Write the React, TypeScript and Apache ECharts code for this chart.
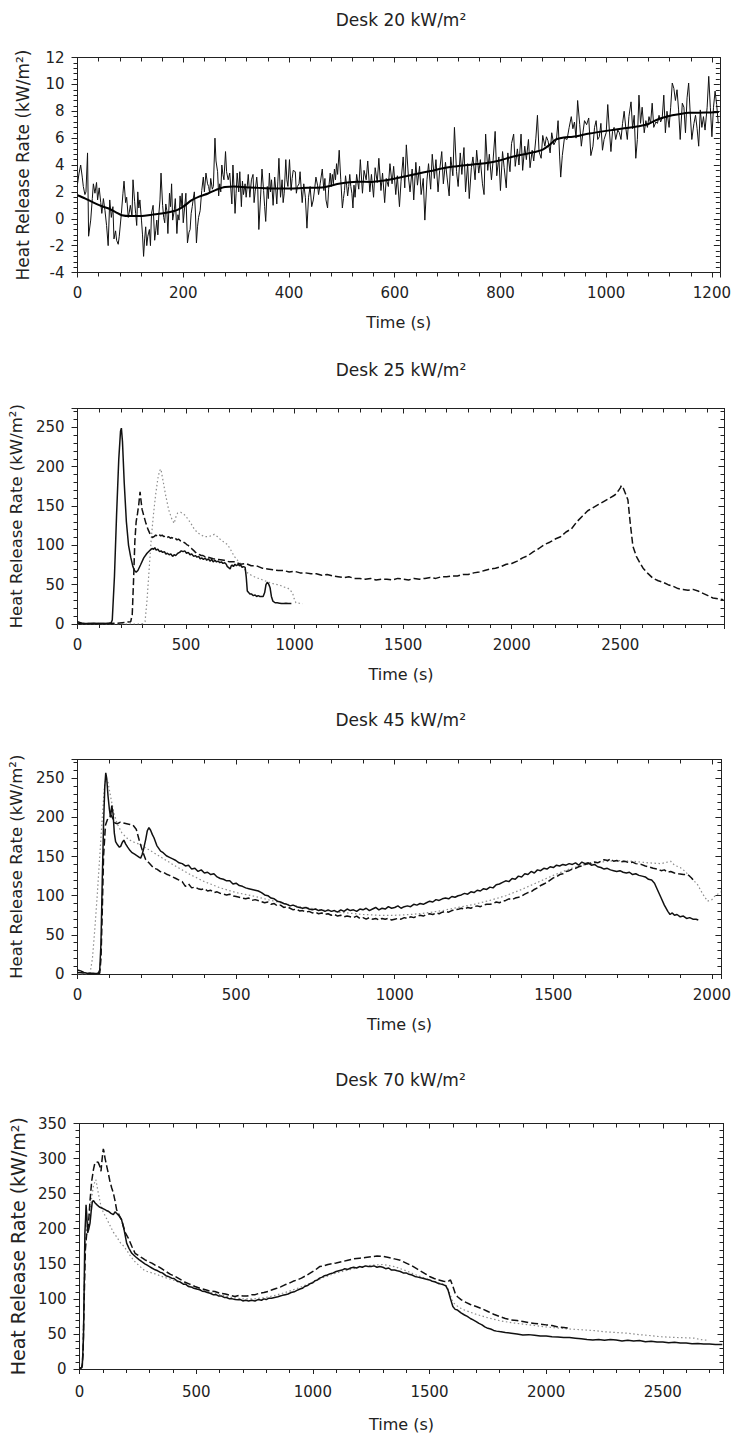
import React, { useEffect, useRef } from "react";
import * as echarts from "echarts";

// ---------- Desk 20 kW/m2 ----------
const desk20Noisy: number[][] = [
  [0,2.6],[3,3.4],[6,4.0],[9,3.1],[11,2.4],[14,1.8],[16,2.0],[19,4.9],[21,-1.3],[25,-0.1],[28,1.5],[30,2.6],[33,1.9],[36,2.7],[38,1.4],[41,2.3],[44,1.2],[46,0.4],[49,1.5],[52,0.6],[55,-0.5],[58,-2.0],[61,1.4],[64,0.1],[67,0.9],[69,-1.5],[72,-0.9],[74,-1.6],[77,-1.9],[79,-1.3],[83,0.4],[86,1.9],[88,2.8],[91,1.2],[93,1.6],[96,0.1],[98,0.5],[100,1.0],[103,0.2],[105,2.9],[108,1.3],[110,0.4],[112,-0.5],[114,2.0],[116,0.8],[118,1.4],[121,-0.1],[123,-1.2],[125,-2.8],[127,-1.5],[129,-0.6],[131,-2.0],[133,-1.3],[136,-0.8],[138,-2.0],[140,0.4],[143,1.0],[146,-1.6],[148,-0.9],[150,-0.1],[152,-1.2],[154,0.4],[156,1.4],[158,3.4],[161,1.0],[163,0.1],[165,-0.3],[167,1.1],[169,0.6],[171,-1.1],[174,1.9],[176,0.9],[178,2.6],[180,-0.1],[183,0.6],[185,1.5],[188,-1.1],[190,0.3],[192,-0.1],[194,1.7],[196,0.9],[198,1.9],[200,-0.3],[203,1.0],[205,1.9],[208,-1.8],[211,-1.0],[213,-0.8],[215,0.4],[217,0.9],[219,1.5],[221,2.0],[223,0.5],[225,-1.8],[227,-0.6],[229,0.1],[232,0.6],[235,2.1],[238,3.1],[240,2.0],[243,3.4],[246,2.6],[248,2.4],[250,1.9],[252,3.0],[255,2.2],[257,2.4],[260,6.0],[262,4.3],[265,3.5],[267,1.7],[269,2.6],[271,2.0],[273,4.0],[275,3.3],[277,2.9],[280,5.0],[282,3.5],[285,2.9],[288,3.4],[292,1.1],[294,4.0],[296,2.4],[298,0.4],[300,1.9],[302,3.4],[305,2.0],[307,3.5],[310,0.9],[312,2.8],[314,1.8],[317,2.6],[319,1.6],[321,2.4],[323,3.3],[326,1.6],[329,2.9],[332,3.3],[334,1.2],[336,2.0],[339,3.1],[341,2.2],[343,-0.8],[346,1.4],[349,3.7],[352,2.1],[354,0.9],[356,-0.2],[359,2.4],[361,1.5],[363,3.4],[365,2.0],[367,2.9],[370,1.0],[373,3.1],[375,2.2],[377,1.1],[379,2.8],[381,4.5],[384,1.6],[387,2.9],[389,1.2],[391,1.9],[394,4.4],[396,2.9],[398,2.4],[401,4.4],[404,2.1],[406,3.0],[408,3.6],[412,3.5],[414,1.9],[416,2.4],[419,2.6],[421,3.5],[423,2.3],[425,1.2],[428,2.6],[431,1.6],[434,-0.7],[437,1.6],[440,2.4],[443,0.9],[446,1.4],[449,2.4],[451,3.1],[454,2.5],[456,1.8],[459,2.6],[463,3.7],[466,2.1],[468,3.0],[470,1.4],[473,0.8],[475,2.2],[478,3.4],[480,2.4],[482,3.3],[484,2.6],[486,3.7],[488,2.9],[490,4.1],[492,3.3],[495,5.1],[498,2.9],[501,0.8],[503,1.5],[505,2.1],[507,3.2],[509,2.5],[511,1.7],[513,2.4],[515,3.3],[517,2.4],[519,1.9],[521,0.8],[523,2.5],[525,1.6],[528,3.3],
  [532,2.2],[535,4.4],[539,1.9],[542,3.6],[546,2.9],[549,4.3],[553,2.0],[556,3.3],[560,1.6],[563,3.8],[567,2.7],[570,4.5],[574,2.1],[577,3.4],[581,1.2],[584,3.0],[588,2.4],[591,4.1],[595,2.6],[598,3.9],[602,1.8],[605,3.2],[609,0.9],[612,2.8],[616,4.6],[619,2.3],[622,5.5],[626,3.1],[629,2.0],[633,3.7],[636,1.4],[640,4.2],[643,2.5],[647,3.9],[650,1.8],[654,3.0],[657,-0.1],[661,2.9],[664,4.1],[668,2.2],[671,4.8],[675,3.0],[678,4.4],[682,2.0],[685,3.6],[689,5.0],[692,2.6],[696,4.2],[699,3.1],[703,1.7],[706,4.6],[710,3.2],[713,6.8],[717,3.5],[720,2.4],[724,4.9],[727,3.3],[731,5.3],[734,2.0],[738,4.1],[741,1.5],[745,3.8],[748,4.6],[752,2.9],[755,5.1],[759,3.4],[762,4.4],[766,2.6],[769,1.8],[772,6.3],[776,3.6],[779,4.8],[783,2.9],[786,4.3],[790,6.5],[793,3.2],[797,4.6],[800,2.1],[804,5.0],[807,3.8],[811,2.3],[814,4.9],[818,3.5],[821,5.6],[825,6.3],[828,3.9],[832,5.2],[835,4.0],[839,6.3],[842,3.6],[846,5.4],[849,4.4],[853,5.9],[856,3.8],[860,5.1],[863,4.3],[867,6.0],[870,7.7],[873,5.0],[877,4.5],[880,6.2],[884,5.4],[887,6.1],[890,5.8],[894,4.9],[897,6.4],[901,5.5],
  [906,5.9],[909,7.3],[912,4.6],[914,3.1],[917,4.7],[921,6.0],[926,5.9],[930,6.8],[934,7.6],[937,6.7],[940,7.2],[943,6.0],[946,8.8],[950,7.0],[953,5.4],[956,6.4],[959,7.3],[963,7.0],[967,7.5],[971,4.7],[975,5.4],[978,6.8],[981,7.3],[984,5.9],[987,6.1],[990,7.1],[993,5.1],[996,5.9],[1000,6.4],[1003,8.5],[1006,6.6],[1009,5.0],[1012,6.5],[1015,6.8],[1018,5.9],[1022,6.6],[1025,6.4],[1028,5.9],[1031,7.1],[1034,8.0],[1037,6.8],[1040,5.9],[1043,7.6],[1047,8.7],[1050,6.7],[1053,7.7],[1056,4.5],[1059,5.9],[1062,9.2],[1065,7.1],[1068,8.3],[1072,6.4],[1075,7.3],[1078,6.8],[1081,7.6],[1084,7.1],[1087,8.6],[1090,6.8],[1094,7.2],[1097,7.1],[1100,7.7],[1103,7.2],[1106,7.5],[1109,9.2],[1112,6.4],[1115,8.0],[1119,6.8],[1122,8.3],[1125,10.1],[1128,9.7],[1131,8.8],[1134,9.6],[1137,8.1],[1140,5.9],[1144,8.6],[1147,8.3],[1150,6.4],[1153,9.0],[1156,10.1],[1159,7.8],[1162,5.9],[1166,7.1],[1169,7.7],[1172,6.7],[1175,5.4],[1178,8.1],[1181,6.8],[1184,7.6],[1187,6.6],[1191,8.3],[1194,10.6],[1197,8.3],[1200,6.1],[1203,8.3],[1206,9.5],[1209,8.5],[1212,7.1]
];
const desk20Smooth: number[][] = [
  [0,1.75],[15,1.5],[28,1.25],[45,0.95],[59,0.76],[72,0.5],[84,0.26],[100,0.2],[122,0.2],[140,0.3],[159,0.39],[175,0.5],[188,0.64],[200,0.9],[216,1.38],[230,1.65],[247,1.88],[262,2.15],[279,2.37],[295,2.4],[310,2.37],[341,2.3],[372,2.25],[404,2.25],[435,2.3],[466,2.35],[497,2.62],[529,2.75],[557,2.74],[580,2.85],[601,3.0],[623,3.18],[645,3.37],[668,3.55],[689,3.74],[711,3.88],[733,3.98],[755,4.07],[777,4.16],[800,4.35],[821,4.6],[843,4.78],[865,4.97],[880,5.15],[893,5.5],[905,5.9],[920,6.05],[937,6.1],[968,6.34],[1000,6.54],[1031,6.71],[1062,6.89],[1080,7.05],[1094,7.33],[1110,7.55],[1125,7.7],[1140,7.8],[1156,7.88],[1188,7.9],[1213,7.95]
];

// ---------- Desk 25 kW/m2 ----------
const desk25Solid: number[][] = [
  [0,3],[10,2],[20,1],[40,0.5],[60,0.6],[80,0.8],[100,0.6],[120,0.5],[140,0.8],[155,1.5],[160,5],[170,60],[180,140],[190,210],[198,245],[202,249],[207,232],[215,180],[225,130],[235,100],[245,85],[255,73],[262,68],[270,66],[278,68],[290,75],[305,84],[320,90],[335,94],[343,96],[350,95],[356,97],[362,94],[370,95],[378,92],[385,93],[392,91],[400,92],[407,89],[414,90],[422,88],[430,89],[438,86],[445,88],[452,87],[462,90],[470,91],[478,93],[486,92],[494,93],[502,90],[510,91],[518,88],[526,89],[535,86],[543,87],[550,85],[558,86],[565,83],[573,84],[580,82],[588,84],[595,81],[603,83],[610,80],[618,82],[625,79],[633,81],[640,79],[648,80],[655,78],[663,79],[670,77],[678,78],[685,76],[690,73],[695,72],[703,70],[708,74],[712,75],[718,73],[725,76],[732,74],[740,76],[746,74],[752,75],[758,72],[765,73],[772,72],[777,60],[782,42],[788,40],[795,38],[802,38],[810,36],[818,37],[825,35],[832,36],[840,35],[848,35],[855,35],[862,40],[868,50],[874,53],[880,51],[887,46],[893,35],[900,29],[910,27],[920,27],[930,26.5],[940,26],[950,26],[960,26.5],[970,26],[985,26]
];
const desk25Dashed: number[][] = [
  [0,1],[60,0.5],[120,0.5],[180,1],[220,2],[245,3],[252,12],[258,55],[264,105],[270,130],[276,140],[282,152],[288,168],[292,158],[297,146],[305,138],[315,128],[325,120],[335,114],[345,110],[352,111],[360,113],[368,112],[375,114],[383,112],[390,113],[398,111],[405,112],[413,110],[420,111],[428,109],[435,110],[443,108],[450,109],[458,107],[465,108],[473,106],[480,106],[488,104],[495,103],[503,101],[510,100],[518,97],[525,96],[533,94],[540,92],[548,90],[555,89],[563,88],[570,87],[578,87],[585,86],[593,85],[600,85],[625,83],[650,82],[675,81],[700,79],[725,79],[750,76],[775,77],[800,74],[825,74],[850,71],[875,70],[900,69],[925,68],[950,68],[975,66],[1000,67],[1025,65],[1050,65],[1075,64],[1100,64],[1125,62],[1150,63],[1175,61],[1200,60],[1225,59],[1250,60],[1275,58],[1300,58],[1325,57],[1350,58],[1375,56],[1400,57],[1425,57],[1450,56],[1475,58],[1500,57],[1525,56],[1550,58],[1575,57],[1600,58],[1625,59],[1650,58],[1675,60],[1700,60],[1725,61],[1750,61],[1775,63],[1800,63],[1825,65],[1850,66],[1875,68],[1900,70],[1925,71],[1950,73],[1975,76],[2000,77],[2025,80],[2050,84],[2075,87],[2100,92],[2125,96],[2150,101],[2175,104],[2200,108],[2225,111],[2250,117],[2275,121],[2300,130],[2325,137],[2350,144],[2375,148],[2400,152],[2425,156],[2450,160],[2475,164],[2490,169],[2500,173],[2505,176],[2515,172],[2525,165],[2535,158],[2546,128],[2558,99],[2574,86],[2590,78],[2605,71],[2628,64],[2651,58],[2675,55],[2697,53],[2720,50],[2743,48],[2766,45],[2789,44],[2812,43],[2835,44],[2858,42],[2881,39],[2904,36],[2927,33],[2950,32],[2975,31]
];
const desk25Dotted: number[][] = [
  [0,0],[100,0],[200,0],[280,0],[300,0.5],[311,3],[320,30],[330,70],[340,110],[350,140],[360,165],[370,185],[378,195],[384,197],[392,185],[405,165],[420,145],[435,133],[445,128],[453,136],[461,141],[475,142],[492,139],[507,134],[522,128],[537,121],[553,116],[570,113],[585,111],[599,111],[615,112],[630,114],[645,111],[660,107],[675,104],[691,101],[706,94],[722,86],[737,81],[753,76],[768,70],[783,65],[800,62],[815,60],[829,58.5],[845,57],[860,55],[875,54],[890,52],[905,51],[920,50],[935,49],[950,47],[968,45.8],[980,43],[991,39],[998,32],[1006,27],[1020,26.5],[1037,26]
];

// ---------- Desk 45 kW/m2 ----------
const desk45Solid: number[][] = [
  [0,5],[10,4],[20,2],[30,1],[40,0.5],[50,0.5],[60,0.5],[66,1.5],[70,5],[74,40],[78,120],[82,190],[86,240],[89,257],[92,250],[96,228],[100,212],[104,200],[108,215],[112,205],[116,180],[120,169],[126,165],[132,162],[136,163],[141,168],[146,171],[152,166],[158,162],[165,158],[172,155],[180,153],[188,151],[195,149],[199,148],[204,153],[209,161],[215,172],[220,183],[225,187],[230,184],[236,178],[241,174],[250,164],[262,157],[270,155],[280,151],[290,149],[300,147],[310,145],[320,142],[330,141],[340,138],[350,139],[360,134],[370,135],[380,131],[390,133],[400,129],[410,130],[420,127],[430,128],[440,124],[450,122],[460,121],[470,119],[480,119],[490,115],[500,116],[510,113],[520,112],[530,110],[540,109],[550,108],[560,107],[570,106],[580,104],[590,101],[600,100],[610,97],[620,96],[630,93],[640,92],[650,90],[660,89],[670,87],[680,88],[690,86],[700,85],[710,84],[720,85],[730,83],[740,82],[750,83],[760,81],[770,82],[780,80],[790,82],[800,80],[810,81],[820,79],[830,82],[840,80],[850,83],[860,81],[870,82],[880,80],[890,83],[900,82],[910,84],[920,81],[930,83],[940,85],[950,82],[960,84],[970,83],[980,86],[990,84],[1000,85],[1010,87],[1020,84],[1030,86],[1040,87],[1050,86],[1060,89],[1070,88],[1080,90],[1090,89],[1100,91],[1110,93],[1120,92],[1130,95],[1140,94],[1150,96],[1160,97],[1170,96],[1180,99],[1190,98],[1200,100],[1210,101],[1220,103],[1230,102],[1240,105],[1250,104],[1260,107],[1270,106],[1280,109],[1290,108],[1300,111],[1310,110],[1320,114],[1330,115],[1340,117],[1350,119],[1360,118],[1370,122],[1380,121],[1390,125],[1400,124],[1410,128],[1420,127],[1430,131],[1440,129],[1450,133],[1460,132],[1470,135],[1480,134],[1490,137],[1500,136],[1510,139],[1520,138],[1530,140],[1540,139],[1550,141],[1560,140],[1570,142],[1580,139],[1590,143],[1600,141],[1610,142],[1620,139],[1630,140],[1640,137],[1650,136],[1660,134],[1670,135],[1680,133],[1690,132],[1700,131],[1710,132],[1720,130],[1730,129],[1740,130],[1750,127],[1760,128],[1770,126],[1780,125],[1790,124],[1800,121],[1810,120],[1819,116],[1830,106],[1840,97],[1850,88],[1861,80],[1868,76],[1875,78],[1882,75],[1890,76],[1900,73],[1910,74],[1920,71],[1930,72],[1940,70],[1950,70],[1957,69]
];
const desk45Dashed: number[][] = [
  [0,2],[30,1],[60,0.5],[70,1],[74,20],[78,80],[82,150],[88,190],[94,197],[100,200],[106,203],[112,198],[118,193],[126,192],[135,194],[145,193],[155,192],[165,191],[175,190],[185,185],[195,170],[205,157],[215,146],[225,142],[241,135],[250,134],[260,131],[270,130],[283,127],[290,126],[300,124],[310,122],[320,120],[330,118],[340,112],[350,115],[360,110],[370,111],[380,109],[390,108],[400,109],[410,106],[420,107],[430,104],[440,105],[450,103],[460,102],[470,101],[480,102],[492,99.5],[500,99],[510,98],[520,97],[530,96],[540,97],[550,94],[560,95],[575,93],[590,91],[600,92],[610,89],[620,90],[630,87],[640,88],[650,85],[660,86],[670,84],[680,82],[690,83],[700,80.5],[710,81],[720,79],[730,80],[740,78],[750,79],[760,77],[770,78],[780,76],[790,77],[800,75],[810,76],[820,74],[830,75],[840,73],[850,74],[860,73],[870,72],[880,74],[890,71],[900,72],[910,70],[920,72],[930,70],[940,71],[950,69],[960,71],[970,70],[980,71],[990,69],[1000,70],[1010,71],[1020,70],[1030,72],[1040,71],[1050,73],[1060,72],[1070,74],[1080,75],[1090,74],[1100,76],[1110,77],[1120,76],[1130,78],[1140,77],[1150,79],[1160,80],[1170,79],[1180,81],[1190,82],[1200,82.6],[1210,84],[1220,83],[1230,85],[1240,84],[1250,86],[1260,87],[1270,86],[1280,88],[1290,89],[1300,89],[1310,90],[1320,92],[1330,91],[1340,93],[1350,94],[1360,96],[1370,95],[1380,97],[1390,98],[1400,99.5],[1410,102],[1420,104],[1430,105],[1440,108],[1450,110],[1460,113],[1470,115],[1480,117],[1490,120],[1500,122.8],[1510,124],[1520,127],[1530,128],[1540,131],[1550,132],[1560,134],[1570,135],[1580,137],[1590,138],[1600,139.8],[1610,141],[1620,141.8],[1630,143],[1640,142],[1650,144],[1660,146],[1672,145],[1680,147],[1690,144],[1700,145],[1710,143],[1725,144],[1740,142],[1750,143],[1760,141],[1777,140],[1790,138],[1800,137],[1815,135],[1829,134],[1840,132],[1850,133],[1860,130],[1870,131],[1882,129],[1895,128],[1910,127],[1924,127],[1935,123],[1945,118.5]
];
const desk45Dotted: number[][] = [
  [0,0],[30,0],[40,2],[47,20],[55,60],[62,100],[70,150],[78,200],[85,240],[90,250],[96,245],[105,225],[115,205],[125,192],[140,180],[160,172],[180,168],[200,165],[220,160],[240,155],[260,150],[280,145],[300,140],[330,133],[360,126],[400,118],[450,110],[500,104],[550,100],[600,95],[650,90],[700,86],[750,83],[800,80],[850,78],[900,76],[950,75],[1000,75],[1050,76],[1100,78],[1150,81],[1200,85],[1250,89],[1300,94],[1350,100],[1400,108],[1450,117],[1500,126],[1550,134],[1600,140],[1650,143],[1700,145],[1750,144],[1800,142],[1840,141],[1870,144],[1882,139],[1900,136],[1913,132],[1930,125],[1955,114],[1970,103],[1986,93],[2000,95],[2007,98.6],[2028,105]
];

// ---------- Desk 70 kW/m2 ----------
const desk70Solid: number[][] = [
  [0,1],[8,2],[12,5],[17,46],[20,120],[23,194],[26,215],[28,234],[31,220],[35,194],[40,200],[45,208],[50,225],[55,239],[60,240],[66,237],[75,234],[85,231],[95,229.5],[105,228],[115,226],[123,225],[135,222],[145,220],[152,224],[159,222],[170,218],[180,213],[190,200],[202,179.5],[212,172],[224,165],[240,160],[255,156],[267,153],[280,150],[290,148],[300,146],[310,144],[324,141.4],[335,140],[345,138],[355,137],[370,133],[380,132],[395,129.5],[405,129],[420,125],[432,124],[445,121],[455,121],[466,117.6],[478,117],[490,115],[502,114],[515,113],[526,111],[537,110.5],[548,109],[560,108],[572,106],[585,106],[597,104],[609,104],[620,102],[630,102],[643,100],[655,100],[667,99],[680,98.6],[690,99],[700,97],[712,98],[725,97],[738,98],[752,97],[765,99],[780,98],[790,100],[800,99],[812,101],[823,101],[836,102],[850,103],[860,104],[870,105],[882,106],[894,107],[907,109],[920,110],[932,112],[945,114],[955,115],[965,117.6],[977,119],[990,122],[1000,123],[1010,126],[1020,127],[1029,129.5],[1040,131],[1050,133],[1062,134],[1075,136],[1087,137],[1100,139],[1112,140],[1125,141],[1137,143],[1150,142],[1162,144],[1175,145],[1187,144],[1200,146],[1212,145],[1225,147],[1237,146],[1250,146],[1262,147],[1275,145],[1287,146],[1300,145],[1312,143],[1325,144],[1337,141],[1350,141],[1362,140],[1375,139],[1387,137],[1400,137],[1412,135],[1425,134],[1437,132],[1450,131],[1462,130],[1475,129],[1487,128],[1500,127],[1512,125],[1525,124],[1537,122],[1550,121],[1560,120],[1570,118.6],[1580,112],[1590,100],[1600,89],[1610,85],[1620,84],[1635,80],[1650,77],[1662,75],[1675,72],[1687,70],[1700,67.6],[1712,65],[1725,63],[1737,60],[1750,58],[1762,57],[1775,55],[1787,54],[1800,53.3],[1825,52],[1850,51],[1875,50],[1900,48.6],[1925,49],[1950,48],[1975,47],[2000,47],[2025,46],[2050,45.5],[2075,45],[2100,44.8],[2125,44],[2150,43],[2175,42],[2200,41.4],[2225,42],[2250,41],[2275,42],[2300,41.4],[2325,40],[2350,41],[2375,40],[2400,40.5],[2425,39],[2450,39.5],[2475,38.5],[2500,38.6],[2525,37.5],[2550,38],[2575,37],[2600,37],[2625,36],[2650,36.5],[2675,35.5],[2700,35.7],[2725,35],[2755,35]
];
const desk70Dashed: number[][] = [
  [0,0],[10,2],[15,20],[20,100],[25,170],[30,190],[38,205],[45,240],[52,267.6],[60,285],[66,293.8],[73,295],[80,294.6],[86,290],[92,282],[97,300],[102,313.8],[106,308],[109,301],[116,290],[123,279.5],[130,268],[138,258],[145,251],[152,240],[159,227],[170,219],[180,213],[195,195],[209,186.7],[224,175],[238,165],[260,160],[270,158],[281,155.7],[295,153],[310,151],[324,148],[338,146],[352,143],[370,139],[390,135],[410,131.9],[430,128],[450,124],[472,121],[495,117.6],[517,115],[540,113],[560,111],[580,110.5],[602,108],[625,107],[645,105],[666,103.4],[683,105],[700,104],[718,104],[737,105.7],[753,106],[770,108],[790,109],[808,110.5],[826,113],[845,115],[862,117],[880,120],[897,122],[915,125],[933,127],[951,129.5],[970,133],[990,137],[1010,141],[1029,146],[1047,147],[1065,149],[1082,150],[1100,151],[1125,153],[1150,155],[1175,157],[1200,158],[1225,159],[1250,160],[1275,161],[1300,160.5],[1325,159],[1350,157],[1375,155],[1400,151],[1425,147],[1450,142],[1475,137],[1500,131.9],[1520,129],[1540,127],[1560,125],[1580,124.8],[1590,127],[1600,118],[1610,108],[1620,103],[1635,99],[1650,96],[1675,92],[1700,89],[1725,86],[1750,82],[1775,78],[1800,74.8],[1825,72],[1850,70],[1875,69],[1900,67.6],[1925,66],[1950,65],[1975,64],[2000,62.9],[2025,62],[2050,60],[2075,59],[2100,58]
];
const desk70Dotted: number[][] = [
  [0,0],[10,1],[15,30],[20,120],[25,180],[30,200],[40,215],[50,240],[60,262],[70,270],[78,255],[90,235],[100,225],[115,215],[130,205],[145,195],[160,188],[175,180],[190,175],[205,168],[220,160],[240,152],[260,146],[280,140],[300,138],[330,135],[360,131],[400,127],[450,121],[500,115],[550,110],[600,106],[650,102],[700,100],[750,100],[800,102],[850,106],[900,111],[950,117],[1000,124],[1050,131],[1100,137],[1150,141],[1200,145],[1250,148],[1300,149],[1350,146],[1400,140],[1450,133],[1500,127],[1550,122],[1575,118],[1590,105],[1600,95],[1625,88],[1650,84],[1700,78],[1750,73],[1800,69],[1850,66],[1900,64],[1950,62],[2000,60],[2064,58],[2100,57],[2150,56],[2206,54.8],[2250,53],[2300,52],[2349,51],[2400,49],[2450,47.5],[2491,46],[2550,45],[2600,44.5],[2634,44],[2662,42],[2690,41]
];

// ---------- axes ----------
const panelTitles = ["Desk 20 kW/m²", "Desk 25 kW/m²", "Desk 45 kW/m²", "Desk 70 kW/m²"];
const xMaxes = [1215, 2980, 2030, 2760];
const xIntervals = [200, 500, 500, 500];
const yMins = [-4, 0, 0, 0];
const yMaxes = [12, 274, 274, 350];
const yIntervals = [2, 50, 50, 50];
const xAxisTitle = "Time (s)";
const yAxisTitle = "Heat Release Rate (kW/m²)";

// layout (pixels)
const grids = [
  { left: 77.5, top: 57.5, width: 647, height: 215 },
  { left: 77.5, top: 408.5, width: 647, height: 215.5 },
  { left: 77, top: 759.5, width: 647.5, height: 214.5 },
  { left: 77.5, top: 1123.5, width: 646, height: 245.5 },
];
const titleY = [20, 370, 720, 1080];
const yNameSize = [17, 16.5, 16.5, 19];
const yNameGap = [46, 50, 50, 50];
const xNameGap = [42, 42, 42, 47];
const xLabelMargin = [13, 13, 13, 15];

const FONT = "DejaVu Sans";
const INK = "#222";

const fmt = (iv: number) => (v: number) => {
  const r = v / iv;
  return Math.abs(r - Math.round(r)) < 1e-6 ? String(Math.round(v)) : "";
};

export default function App() {
  const ref = useRef<HTMLDivElement>(null);
  useEffect(() => {
    if (!ref.current) return;
    const chart = echarts.init(ref.current, null, { renderer: "svg" });
    const xAxes: any[] = [];
    const yAxes: any[] = [];
    for (let i = 0; i < 4; i++) {
      const common = {
        type: "value",
        gridIndex: i,
        splitLine: { show: false },
        minorSplitLine: { show: false },
      };
      for (const pos of ["bottom", "top"]) {
        const main = pos === "bottom";
        xAxes.push({
          ...common,
          position: pos,
          min: 0,
          max: xMaxes[i],
          interval: xIntervals[i],
          axisLine: { show: true, onZero: false, lineStyle: { color: INK, width: 1 } },
          axisTick: { show: true, inside: !main, length: 5, lineStyle: { color: INK, width: 1 } },
          minorTick: { show: true, splitNumber: 5, length: 4, lineStyle: { color: INK, width: 1 } },
          axisLabel: main
            ? { show: true, fontFamily: FONT, fontSize: 15, color: INK, margin: xLabelMargin[i], formatter: fmt(xIntervals[i]) }
            : { show: false },
          name: main ? xAxisTitle : "",
          nameLocation: "middle",
          nameGap: xNameGap[i],
          nameTextStyle: { fontFamily: FONT, fontSize: 16, color: INK },
        });
      }
      for (const pos of ["left", "right"]) {
        const main = pos === "left";
        yAxes.push({
          ...common,
          position: pos,
          min: yMins[i],
          max: yMaxes[i],
          interval: yIntervals[i],
          axisLine: { show: true, onZero: false, lineStyle: { color: INK, width: 1 } },
          axisTick: { show: true, inside: !main, length: 6, lineStyle: { color: INK, width: 1 } },
          minorTick: { show: true, splitNumber: 5, length: 4, lineStyle: { color: INK, width: 1 } },
          axisLabel: main
            ? { show: true, fontFamily: FONT, fontSize: 15, color: INK, margin: 13, formatter: fmt(yIntervals[i]) }
            : { show: false },
          name: main ? yAxisTitle : "",
          nameLocation: "middle",
          nameGap: yNameGap[i],
          nameRotate: 90,
          nameTextStyle: { fontFamily: FONT, fontSize: yNameSize[i], color: INK },
        });
      }
    }
    const solid = { color: "#111", width: 1.5, type: "solid" };
    const dashed = { color: "#111", width: 1.5, type: [7, 3] };
    const dotted = { color: "#8c8c8c", width: 1.2, type: [1.5, 2.5] };
    const mk = (i: number, data: number[][], ls: any, z = 2, smooth: any = false) => ({
      type: "line",
      xAxisIndex: 2 * i,
      yAxisIndex: 2 * i,
      data,
      showSymbol: false,
      symbol: "none",
      lineStyle: ls,
      smooth,
      z,
      silent: true,
    });
    const series = [
      mk(0, desk20Noisy, { color: "#111", width: 1, type: "solid" }),
      mk(0, desk20Smooth, { color: "#000", width: 2, type: "solid" }, 3, 0.3),
      mk(1, desk25Dotted, dotted),
      mk(1, desk25Dashed, dashed),
      mk(1, desk25Solid, solid),
      mk(2, desk45Dotted, dotted),
      mk(2, desk45Dashed, dashed),
      mk(2, desk45Solid, solid),
      mk(3, desk70Dotted, dotted),
      mk(3, desk70Dashed, dashed),
      mk(3, desk70Solid, solid),
    ];
    chart.setOption({
      animation: false,
      backgroundColor: "#fff",
      grid: grids.map((g) => ({ ...g, containLabel: false })),
      xAxis: xAxes,
      yAxis: yAxes,
      series,
      graphic: panelTitles.map((t, i) => ({
        type: "text",
        x: grids[i].left + grids[i].width / 2,
        y: titleY[i],
        style: {
          text: t,
          fontFamily: FONT,
          fontSize: 17,
          fill: INK,
          textAlign: "center",
          textVerticalAlign: "middle",
        },
      })),
    });
    return () => chart.dispose();
  }, []);
  return (
    <div
      ref={ref}
      style={{ position: "fixed", left: 0, top: 0, width: 734, height: 1443, background: "#fff" }}
    />
  );
}
